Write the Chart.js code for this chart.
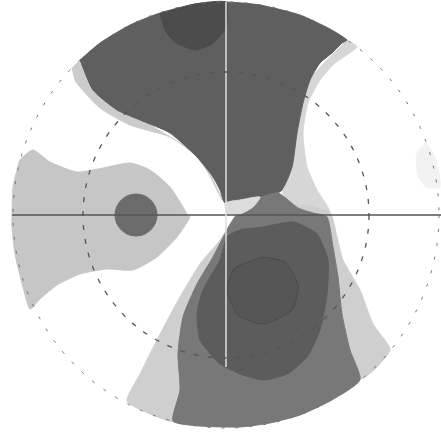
<!DOCTYPE html>
<html>
<head>
<meta charset="utf-8">
<title>Polar contour map</title>
<script src="https://cdn.jsdelivr.net/npm/chart.js@4"></script>
<style>
  html, body { margin: 0; padding: 0; background: #fff; }
  canvas { display: block; filter: blur(0.6px); }
</style>
</head>
<body>
<canvas id="map" width="441" height="434"></canvas>
<script>
  // contour outlines as [x, y], pole at 0,0
  const topRegion = [[-146,155],[-126,172],[-96,190],[-66,202],[-31,211],[0,213],[34,210],[74,200],[104,186],[121,175],[116,172],[106,162],[94,152],[84,135],[77,112],[71,82],[66,48],[55,24],[34,18],[14,15],[-1,12],[-6,25],[-13,38],[-29,58],[-56,82],[-86,95],[-109,105],[-133,125],[-146,155]];
  const topCap = [[-66,201],[-61,185],[-51,173],[-31,165],[-14,171],[0,187],[0,213],[-31,211],[-66,201]];
  const topFringeLeft = [[-154,147],[-146,153],[-86,97],[-29,60],[-4,15],[-14,37],[-31,60],[-56,78],[-96,90],[-126,107],[-150,133],[-154,147]];
  const topFringeRight = [[121,175],[131,168],[109,152],[94,135],[82,112],[77,82],[81,48],[91,25],[104,2],[70,2],[56,25],[66,48],[71,82],[84,135],[121,175]];
  const leftRegion = [[-214,0],[-213,28],[-209,45],[-206,55],[-193,65],[-176,53],[-149,43],[-123,47],[-96,52],[-76,45],[-56,28],[-43,8],[-39,1],[-36,-2],[-49,-22],[-69,-42],[-93,-55],[-119,-54],[-146,-59],[-169,-70],[-186,-84],[-196,-94],[-203,-72],[-211,-39],[-214,-12],[-214,0]];
  const lowerFringe = [[9,-1],[-6,-25],[-26,-49],[-46,-82],[-69,-125],[-86,-159],[-99,-186],[-76,-199],[-50,-207],[-20,-190],[60,-180],[137,-163],[151,-152],[164,-134],[147,-109],[134,-75],[117,-45],[111,-22],[104,2],[74,10],[9,-1]];
  const lowerMid = [[14,2],[27,8],[34,17],[52,22],[72,7],[87,2],[101,-2],[107,-32],[112,-62],[116,-99],[124,-135],[134,-165],[104,-186],[74,-200],[44,-208],[14,-212],[-26,-211],[-53,-206],[-46,-175],[-48,-139],[-43,-102],[-29,-69],[-13,-42],[2,-13],[9,-2],[14,2]];
  const lowerDark = [[37,-12],[67,-7],[91,-19],[102,-45],[101,-79],[94,-115],[81,-142],[61,-159],[37,-165],[14,-159],[-6,-149],[-13,-142],[-26,-125],[-29,-99],[-23,-75],[-6,-45],[1,-22],[14,-15],[37,-12]];
  const lowerCore = [[37,-42],[59,-47],[72,-70],[66,-95],[37,-109],[12,-100],[1,-75],[9,-53],[37,-42]];
  const centerPatch = [[1,1],[-1,12],[14,15],[34,18],[27,8],[14,1],[1,1]];
  const rightSpeck = [[190,60],[200,72],[210,55],[214,28],[200,28],[192,40],[190,60]];
  const leftSpot = [[-90,0]];
  const axisH = [[-214,0],[215,0]];
  const axisV = [[0,213],[0,-152]];
  const rings = [143, 213];

  function toXY(list) {
    return list.map((p) => ({ x: p[0], y: p[1] }));
  }

  function region(points, color, line) {
    return {
      data: toXY(points),
      showLine: true,
      fill: "shape",
      tension: 0.2,
      backgroundColor: color,
      borderColor: line || color,
      borderWidth: 1,
      pointRadius: 0,
    };
  }

  function stroke(points, color, width) {
    return {
      data: toXY(points),
      showLine: true,
      fill: false,
      borderColor: color,
      borderWidth: width,
      pointRadius: 0,
    };
  }

  // bottom layer first
  const layers = [
    region(rightSpeck, "#f2f2f2"),
    region(leftRegion, "#c6c6c6"),
    region(topFringeLeft, "#cccccc"),
    region(topFringeRight, "#d6d6d6"),
    region(lowerFringe, "#cfcfcf"),
    region(topRegion, "#5f5f5f"),
    region(topCap, "#4c4c4c"),
    region(lowerMid, "#787878"),
    region(centerPatch, "#dcdcdc"),
    region(lowerDark, "#5c5c5c"),
    region(lowerCore, "#565656", "#4a4a4a"),
    {
      data: toXY(leftSpot),
      pointRadius: 21,
      pointBackgroundColor: "#6c6c6c",
      pointBorderColor: "#6c6c6c",
    },
    stroke(axisH, "#555555", 1.5),
    stroke(axisV, "#dedede", 1.5),
  ];

  const ringPlugin = {
    id: "rings",
    afterDatasetsDraw(chart) {
      const xs = chart.scales.x;
      const ys = chart.scales.y;
      const ctx = chart.ctx;
      const cx = xs.getPixelForValue(0);
      const cy = ys.getPixelForValue(0);
      ctx.save();
      rings.forEach((r, i) => {
        ctx.beginPath();
        ctx.setLineDash(i === 0 ? [5, 9] : [3, 11]);
        ctx.lineWidth = i === 0 ? 1.3 : 1;
        ctx.strokeStyle = i === 0 ? "#555555" : "#707070";
        ctx.arc(cx, cy, xs.getPixelForValue(r) - cx, 0, Math.PI * 2);
        ctx.stroke();
      });
      ctx.restore();
    },
  };

  new Chart(document.getElementById("map").getContext("2d"), {
    type: "scatter",
    data: { datasets: layers.map((d, i) => ({ ...d, order: layers.length - i })) },
    options: {
      responsive: false,
      animation: false,
      layout: { padding: 0, autoPadding: false },
      plugins: { legend: { display: false }, tooltip: { enabled: false } },
      scales: {
        x: { display: false, min: -226, max: 215 },
        y: { display: false, min: -219, max: 215 },
      },
    },
    plugins: [ringPlugin],
  });
</script>
</body>
</html>
